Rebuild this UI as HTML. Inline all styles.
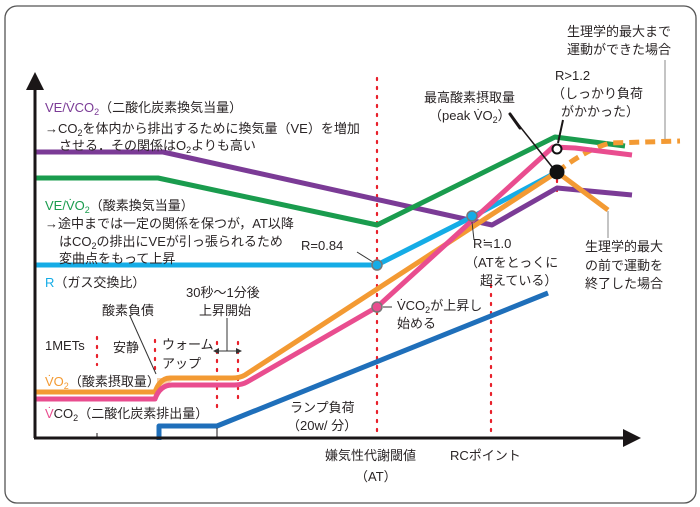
<!DOCTYPE html>
<html><head><meta charset="utf-8"><style>
html,body{margin:0;padding:0;background:#fff;}
svg{display:block;}
text{font-family:"Liberation Sans","Noto Sans CJK JP",sans-serif;font-size:13px;fill:#2a2526;}
</style></head><body>
<svg width="700" height="507" viewBox="0 0 700 507" xmlns="http://www.w3.org/2000/svg">
<rect x="5" y="6" width="691" height="497" rx="12" fill="#fff" stroke="#555" stroke-width="1.3"/>

<!-- red dotted verticals -->
<g stroke="#e8202a" stroke-width="2.2" stroke-dasharray="2 7" stroke-linecap="round">
<line x1="377" y1="78" x2="377" y2="436"/>
<line x1="491" y1="285" x2="491" y2="436"/>
<line x1="557" y1="180" x2="557" y2="196"/>
<line x1="97" y1="337" x2="97" y2="365"/>
<line x1="155" y1="340" x2="155" y2="372"/>
<line x1="217" y1="342" x2="217" y2="410"/>
<line x1="238" y1="342" x2="238" y2="405"/>
</g>

<!-- oxygen debt fill -->
<polygon points="157,392 157,378 176,378" fill="#f8cfa6"/>

<!-- curves -->
<g fill="none" stroke-width="5" stroke-linejoin="round">
<polyline points="35,152 163,152 492,225 557,188 632,195" stroke="#7b3b96"/>
<polyline points="35,178 158,178 377,225 555,137 625,146" stroke="#1a9c4e"/>
<polyline points="35,265 377,265 472,217 557,172" stroke="#15ace6"/>
<path d="M35,392 L155,392 Q160,378 170,378 L232,378 Q240,378 245,375 L557,172 L608,210" stroke="#f39a33"/>
<path d="M557,172 Q585,150 610,143 L680,141" stroke="#f39a33" stroke-dasharray="10 6"/>
<path d="M35,399 L155,399 Q160,385 172,385 L234,385 Q242,385 247,382 L377,307 L553,147 L575,148 L632,155" stroke="#e94d8f"/>
<polyline points="159,440 159,426 217,426 548,293" stroke="#1f6fba"/>
</g>

<!-- axes -->
<line x1="35" y1="88" x2="35" y2="438" stroke="#1a1617" stroke-width="3"/>
<polygon points="35,72 26,90 44,90" fill="#1a1617"/>
<line x1="34" y1="438" x2="626" y2="438" stroke="#1a1617" stroke-width="3"/>
<polygon points="641,438 623,429 623,447" fill="#1a1617"/>
<line x1="97" y1="433" x2="97" y2="438" stroke="#1a1617" stroke-width="1"/>
<line x1="217" y1="428" x2="217" y2="438" stroke="#1a1617" stroke-width="1"/>

<!-- leaders -->
<g stroke="#333" stroke-width="1" fill="none">
<line x1="130" y1="316" x2="156" y2="374"/>
<line x1="227" y1="318" x2="227" y2="351"/>
<line x1="217" y1="351" x2="238" y2="351"/>
<line x1="357" y1="252" x2="373" y2="262"/>
<line x1="472" y1="222" x2="474" y2="240"/>
<line x1="383" y1="307" x2="392" y2="307"/>
<line x1="665" y1="60" x2="665" y2="139" stroke="#888"/>
<line x1="608" y1="211" x2="608" y2="238" stroke="#888"/>
</g>
<polygon points="213,351 219,348 219,354" fill="#333"/>
<polygon points="242,351 236,348 236,354" fill="#333"/>
<line x1="510" y1="114" x2="553" y2="168" stroke="#1a1617" stroke-width="1.5"/>
<line x1="510" y1="114" x2="520" y2="128" stroke="#1a1617" stroke-width="3" stroke-linecap="round"/>
<line x1="563" y1="120" x2="558" y2="143" stroke="#1a1617" stroke-width="2"/>

<!-- markers -->
<circle cx="377" cy="265" r="5" fill="#15ace6" stroke="#777" stroke-width="1.5"/>
<circle cx="472" cy="216" r="5" fill="#15ace6" stroke="#777" stroke-width="1.5"/>
<circle cx="377" cy="307" r="5" fill="#e94d8f" stroke="#777" stroke-width="1.5"/>
<circle cx="557" cy="172" r="7.5" fill="#111"/>
<circle cx="557" cy="149" r="4.5" fill="#fff" stroke="#111" stroke-width="2"/>

<!-- text -->
<text x="45" y="112"><tspan fill="#7b3b96">VE/V̇CO<tspan font-size="9" dy="3">2</tspan></tspan><tspan dy="-3">（二酸化炭素換気当量）</tspan></text>
<text x="45" y="133">→CO<tspan font-size="9" dy="3">2</tspan><tspan dy="-3">を体内から排出するために換気量（VE）を増加</tspan></text>
<text x="59" y="150">させる．その関係はO<tspan font-size="9" dy="3">2</tspan><tspan dy="-3">よりも高い</tspan></text>

<text x="45" y="210"><tspan fill="#1a9c4e">VE/V̇O<tspan font-size="9" dy="3">2</tspan></tspan><tspan dy="-3">（酸素換気当量）</tspan></text>
<text x="45" y="228">→途中までは一定の関係を保つが，AT以降</text>
<text x="59" y="246">はCO<tspan font-size="9" dy="3">2</tspan><tspan dy="-3">の排出にVEが引っ張られるため</tspan></text>
<text x="59" y="263">変曲点をもって上昇</text>
<text x="301" y="250" font-size="14">R=0.84</text>
<text x="45" y="287"><tspan fill="#15ace6">R</tspan>（ガス交換比）</text>

<text x="186" y="297">30秒〜1分後</text>
<text x="199" y="315">上昇開始</text>
<text x="102" y="315">酸素負債</text>
<text x="45" y="350">1METs</text>
<text x="113" y="352">安静</text>
<text x="162" y="349">ウォーム</text>
<text x="162" y="368">アップ</text>
<text x="45" y="386"><tspan fill="#f39a33">V̇O<tspan font-size="9" dy="3">2</tspan></tspan><tspan dy="-3">（酸素摂取量）</tspan></text>
<text x="45" y="418"><tspan fill="#e94d8f">V̇</tspan>CO<tspan font-size="9" dy="3">2</tspan><tspan dy="-3">（二酸化炭素排出量）</tspan></text>
<text x="290" y="412">ランプ負荷</text>
<text x="287" y="430">（20w/ 分）</text>
<text x="325" y="460">嫌気性代謝閾値</text>
<text x="355" y="481">（AT）</text>
<text x="450" y="460">RCポイント</text>
<text x="397" y="310">V̇CO<tspan font-size="9" dy="3">2</tspan><tspan dy="-3">が上昇し</tspan></text>
<text x="397" y="328">始める</text>
<text x="473" y="248">R≒1.0</text>
<text x="465" y="267">（ATをとっくに</text>
<text x="480" y="285">超えている）</text>
<text x="424" y="102">最高酸素摂取量</text>
<text x="429" y="120">（peak V̇O<tspan font-size="9" dy="3">2</tspan><tspan dy="-3">）</tspan></text>
<text x="555" y="80">R&gt;1.2</text>
<text x="552" y="98">（しっかり負荷</text>
<text x="561" y="116">がかかった）</text>
<text x="567" y="36">生理学的最大まで</text>
<text x="567" y="54">運動ができた場合</text>
<text x="585" y="251">生理学的最大</text>
<text x="585" y="270">の前で運動を</text>
<text x="585" y="288">終了した場合</text>
</svg>
</body></html>
